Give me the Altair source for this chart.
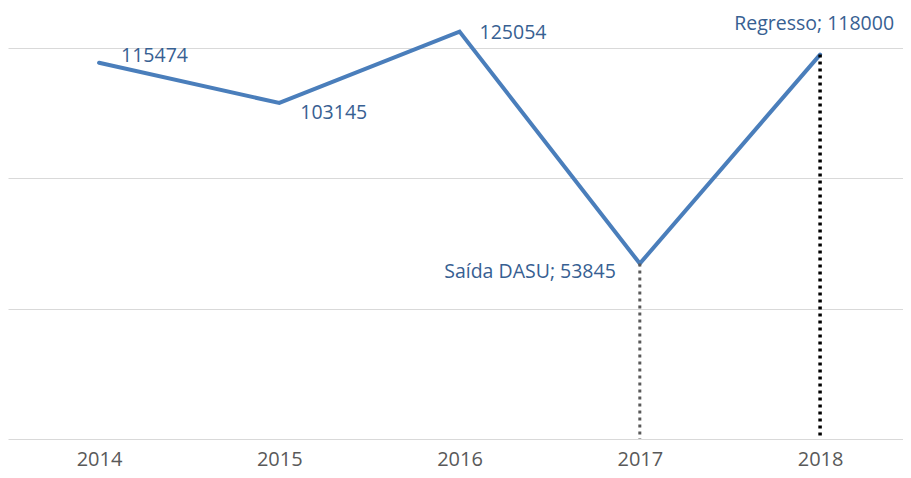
import altair as alt
import pandas as pd

years = [2014, 2015, 2016, 2017, 2018]
values = [115474, 103145, 125054, 53845, 118000]
labels = ["115474", "103145", "125054", "Saída DASU; 53845", "Regresso; 118000"]

df = pd.DataFrame({"year": years, "value": values, "label": labels})

FONT = "Open Sans"
LINE = "#4A7EBB"
TXT = "#376092"

x = alt.X("year:Q", title=None, scale=alt.Scale(domain=[2013.495, 2018.46], nice=False, zero=False),
          axis=alt.Axis(values=years, format="d", labelAngle=0, domain=False, ticks=False, labelFontSize=20,
                        labelColor="#595959", labelFont=FONT, labelPadding=10, grid=False))
y = alt.Y("value:Q", title=None, scale=alt.Scale(domain=[0, 132300], nice=False, zero=True),
          axis=alt.Axis(values=[0, 40000, 80000, 120000], labels=False, ticks=False, domain=False,
                        grid=True, gridColor="#D9D9D9", gridWidth=1))

base = alt.Chart(df)

line = base.mark_line(color=LINE, strokeWidth=4, strokeCap="round", strokeJoin="miter").encode(x=x, y=y)

drop17 = base.transform_filter(alt.datum.year == 2017).mark_rule(
    color="#595959", strokeWidth=3, strokeDash=[3, 4]).encode(x=x, y=y, y2=alt.datum(0))
drop18 = base.transform_filter(alt.datum.year == 2018).mark_rule(
    color="#000000", strokeWidth=3.5, strokeDash=[3, 4]).encode(x=x, y=y, y2=alt.datum(0))

def lab(year, align, dx, dy):
    return base.transform_filter(alt.datum.year == year).mark_text(
        align=align, baseline="middle", dx=dx, dy=dy, fontSize=19.5, font=FONT, color=TXT
    ).encode(x=x, y=y, text="label:N")

texts = [
    lab(2014, "left", 22, -7),
    lab(2015, "left", 21, 10),
    lab(2016, "left", 20, 1),
    lab(2017, "right", -24, 8),
    lab(2018, "right", 74, -31),
]

chart = alt.layer(line, drop17, drop18, *texts).properties(
    width=895, height=431,
    autosize=alt.AutoSizeParams(type="none"),
    padding={"left": 0, "top": 0, "right": 0, "bottom": 31},
).configure_view(stroke=None)

chart.save("out.html", embed_options={"renderer": "svg", "actions": False})
